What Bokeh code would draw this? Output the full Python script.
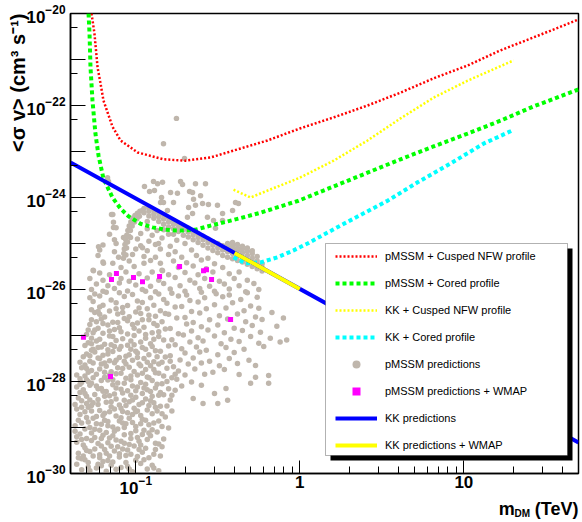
import math
from bokeh.plotting import figure
from bokeh.models import (Range1d, FixedTicker, Label, BoxAnnotation, Legend, LegendItem,
                          LogTickFormatter)
from bokeh.embed import file_html
from bokeh.resources import INLINE

# ---------------- data: log10(m_DM / TeV), log10(<sigma v> / cm^3 s^-1) ----------------
nfw_pmssm_logm = [-1.270, -1.252, -1.233, -1.215, -1.197, -1.172, -1.142, -1.093, -0.989, -0.831,
                  -0.697, -0.544, -0.404, -0.197, 0.0, 0.206, 0.413, 0.614, 0.815, 1.023, 1.224, 1.425, 1.700]
nfw_pmssm_logsv = [-20.0, -20.43, -21.17, -21.52, -21.89, -22.15, -22.46, -22.76, -23.02, -23.17,
                   -23.20, -23.13, -22.98, -22.76, -22.50, -22.26, -22.0, -21.72, -21.41, -21.13, -20.80, -20.52, -20.13]

cored_pmssm_logm = [-1.288, -1.282, -1.276, -1.264, -1.246, -1.227, -1.197, -1.142, -1.093, -1.044,
                    -0.971, -0.898, -0.819, -0.727, -0.636, -0.544, -0.441, -0.343, -0.239, -0.008,
                    0.206, 0.413, 0.614, 0.815, 1.023, 1.224, 1.425, 1.700]
cored_pmssm_logsv = [-20.0, -20.43, -21.17, -21.89, -22.61, -23.09, -23.59, -24.0, -24.24, -24.41,
                     -24.57, -24.65, -24.70, -24.72, -24.70, -24.61, -24.52, -24.43, -24.33, -24.07,
                     -23.76, -23.46, -23.17, -22.89, -22.61, -22.33, -22.02, -21.65]

nfw_kk_logm = [-0.404, -0.300, -0.197, 0.0, 0.206, 0.413, 0.614, 0.815, 1.023, 1.303]
nfw_kk_logsv = [-23.83, -24.0, -23.85, -23.57, -23.20, -22.76, -22.28, -21.83, -21.46, -21.02]

cored_kk_logm = [-0.404, -0.331, -0.239, -0.136, -0.038, 0.047, 0.248, 0.535, 0.718, 0.919, 1.12, 1.297]
cored_kk_logsv = [-25.30, -25.43, -25.41, -25.30, -25.15, -25.0, -24.61, -24.07, -23.67, -23.26, -22.83, -22.54]

kk_m = [0.04, 50.0]
kk_sv = [5.8e-24, 4.7e-30]
kk_wmap_m = [0.4, 1.0]
kk_wmap_sv = [6.25e-26, 1.03e-26]

wmap_pts = [(-1.319, -27.04), (-1.154, -27.89), (-1.148, -25.78), (-1.118, -25.65), (-1.014, -25.74),
            (-0.959, -25.83), (-0.855, -25.72), (-0.733, -25.50), (-0.587, -25.59), (-0.569, -25.57),
            (-0.538, -25.78), (-0.422, -26.65)]

pmssm_low = [
    (-1.33,-29.92),(-1.24,-29.88),(-1.18,-29.95),(-1.09,-29.87),(-1.02,-29.96),(-0.93,-29.90),(-0.86,-29.94),
    (-1.36,-29.80),(-1.29,-29.76),(-1.21,-29.83),(-1.14,-29.75),(-1.05,-29.85),(-0.97,-29.78),
    (-1.31,-29.70),(-1.26,-29.62),(-1.17,-29.72),(-1.10,-29.64),(-1.00,-29.71),(-0.92,-29.66),(-0.85,-29.62),
    (-1.35,-29.56),(-1.28,-29.52),(-1.22,-29.59),(-1.13,-29.51),(-1.06,-29.61),(-0.96,-29.54),(-0.89,-29.58),
    (-1.32,-29.38),(-1.19,-29.48),(-1.15,-29.41),(-1.08,-29.47),(-1.01,-29.40),(-0.94,-29.45),(-0.84,-29.42),
    (-1.36,-29.32),(-1.27,-29.28),(-1.23,-29.35),(-1.12,-29.27),(-1.04,-29.37),(-0.98,-29.30),(-0.88,-29.34),
    (-1.34,-29.14),(-1.30,-29.24),(-1.20,-29.17),(-1.16,-29.23),(-1.07,-29.16),(-0.99,-29.22),(-0.91,-29.18),(-0.83,-29.25),
    (-1.37,-29.08),(-1.25,-29.04),(-1.18,-29.11),(-1.11,-29.03),(-1.03,-29.13),(-0.95,-29.06),(-0.87,-29.10),
    (-1.33,-28.90),(-1.28,-29.00),(-1.21,-28.93),(-1.14,-28.99),(-1.06,-28.92),(-1.00,-28.98),(-0.92,-28.94),(-0.80,-29.01),
    (-1.35,-28.84),(-1.26,-28.80),(-1.17,-28.87),(-1.09,-28.79),(-1.02,-28.89),(-0.96,-28.82),(-0.86,-28.86),
    (-1.31,-28.66),(-1.24,-28.76),(-1.19,-28.69),(-1.12,-28.75),(-1.05,-28.68),(-0.97,-28.74),(-0.90,-28.70),(-0.82,-28.77),
    (-1.36,-28.60),(-1.29,-28.56),(-1.22,-28.63),(-1.15,-28.55),(-1.08,-28.65),(-1.01,-28.58),(-0.93,-28.62),(-0.85,-28.54),(-0.78,-28.64),
    (-1.33,-28.42),(-1.27,-28.52),(-1.18,-28.45),(-1.10,-28.51),(-1.04,-28.44),(-0.98,-28.50),(-0.89,-28.46),(-0.81,-28.53),(-0.59,-28.48),(-0.50,-28.48),
    (-1.35,-28.36),(-1.30,-28.32),(-1.23,-28.39),(-1.16,-28.31),(-1.07,-28.41),(-1.00,-28.34),(-0.94,-28.38),(-0.86,-28.30),(-0.79,-28.40),(-0.65,-28.37),(-0.44,-28.41),
    (-1.32,-28.18),(-1.25,-28.28),(-1.20,-28.21),(-1.13,-28.27),(-1.05,-28.20),(-0.96,-28.26),(-0.91,-28.22),(-0.83,-28.29),(-0.76,-28.19),(-0.52,-28.26),
    (-1.36,-28.12),(-1.28,-28.08),(-1.21,-28.15),(-1.14,-28.07),(-1.09,-28.17),(-1.02,-28.10),(-0.95,-28.14),(-0.87,-28.06),(-0.80,-28.16),(-0.72,-28.10),(-0.60,-28.08),(-0.45,-28.15),
    (-1.34,-27.94),(-1.27,-28.04),(-1.17,-27.97),(-1.11,-28.03),(-1.03,-27.96),(-0.97,-28.02),(-0.90,-27.98),(-0.84,-28.05),(-0.75,-27.95),(-0.66,-28.01),(-0.30,-28.04),(-0.19,-28.04),
    (-1.31,-27.88),(-1.24,-27.84),(-1.19,-27.91),(-1.12,-27.83),(-1.06,-27.93),(-0.99,-27.86),(-0.93,-27.90),(-0.86,-27.82),(-0.78,-27.92),(-0.70,-27.86),(-0.58,-27.84),(-0.37,-27.85),(-0.27,-27.91),(-0.19,-27.87),
    (-1.33,-27.70),(-1.29,-27.80),(-1.22,-27.73),(-1.15,-27.79),(-1.08,-27.72),(-1.01,-27.78),(-0.94,-27.74),(-0.88,-27.81),(-0.81,-27.71),(-0.74,-27.77),(-0.64,-27.73),(-0.53,-27.80),(-0.46,-27.74),(-0.27,-27.65),
    (-1.31,-27.64),(-1.26,-27.60),(-1.18,-27.67),(-1.13,-27.59),(-1.04,-27.69),(-0.98,-27.62),(-0.91,-27.66),(-0.84,-27.58),(-0.77,-27.68),(-0.68,-27.62),(-0.60,-27.60),(-0.49,-27.66),(-0.38,-27.61),
    (-1.32,-27.46),(-1.28,-27.56),(-1.23,-27.49),(-1.16,-27.55),(-1.10,-27.48),(-1.02,-27.54),(-0.95,-27.50),(-0.89,-27.57),(-0.82,-27.47),(-0.73,-27.53),(-0.65,-27.49),(-0.55,-27.56),(-0.43,-27.50),(-0.31,-27.54),
    (-1.30,-27.40),(-1.25,-27.36),(-1.20,-27.43),(-1.14,-27.35),(-1.06,-27.45),(-0.99,-27.38),(-0.92,-27.42),(-0.85,-27.34),(-0.79,-27.44),(-0.70,-27.38),(-0.61,-27.36),(-0.50,-27.42),(-0.40,-27.37),
    (-1.31,-27.22),(-1.27,-27.32),(-1.21,-27.25),(-1.17,-27.31),(-1.09,-27.24),(-1.03,-27.30),(-0.96,-27.26),(-0.88,-27.33),(-0.80,-27.23),(-0.72,-27.29),(-0.63,-27.25),(-0.57,-27.32),(-0.45,-27.26),(-0.34,-27.30),(-0.22,-27.24),
    (-1.29,-27.16),(-1.24,-27.12),(-1.19,-27.19),(-1.12,-27.11),(-1.05,-27.21),(-0.97,-27.14),(-0.91,-27.18),(-0.83,-27.10),(-0.76,-27.20),(-0.67,-27.14),(-0.59,-27.12),(-0.48,-27.18),(-0.37,-27.13),(-0.25,-27.17),(-0.12,-27.14),
    (-1.30,-26.98),(-1.22,-27.08),(-1.16,-27.01),(-1.08,-27.07),(-1.01,-27.00),(-0.94,-27.06),(-0.86,-27.02),(-0.78,-27.09),(-0.71,-26.99),(-0.62,-27.05),(-0.52,-27.01),(-0.42,-27.08),(-0.30,-27.02),(-0.18,-27.06),(-0.08,-27.10),
    (-1.29,-26.88),(-1.20,-26.95),(-1.13,-26.87),(-1.05,-26.97),(-0.98,-26.90),(-0.90,-26.94),(-0.82,-26.86),(-0.74,-26.96),(-0.66,-26.90),(-0.56,-26.88),(-0.46,-26.94),(-0.35,-26.89),(-0.24,-26.93),
    (-1.28,-26.76),(-1.23,-26.84),(-1.17,-26.77),(-1.10,-26.83),(-1.02,-26.76),(-0.95,-26.82),(-0.87,-26.78),(-0.79,-26.85),(-0.69,-26.75),(-0.60,-26.81),(-0.50,-26.77),(-0.40,-26.84),(-0.29,-26.78),(-0.14,-26.80),
    (-1.27,-26.66),(-1.21,-26.64),(-1.14,-26.71),(-1.07,-26.63),(-0.99,-26.73),(-0.92,-26.66),(-0.84,-26.70),(-0.75,-26.62),(-0.65,-26.72),(-0.55,-26.66),(-0.44,-26.64),(-0.33,-26.70),(-0.23,-26.65),(-0.10,-26.62),
    (-1.25,-26.50),(-1.19,-26.60),(-1.11,-26.53),(-1.04,-26.59),(-0.97,-26.52),(-0.88,-26.58),(-0.80,-26.54),(-0.70,-26.61),(-0.61,-26.51),(-0.49,-26.57),(-0.38,-26.53),(-0.27,-26.60),(-0.17,-26.50),
    (-1.27,-26.44),(-1.22,-26.38),(-1.16,-26.47),(-1.08,-26.39),(-1.00,-26.49),(-0.93,-26.42),(-0.85,-26.46),(-0.76,-26.38),(-0.66,-26.48),(-0.57,-26.42),(-0.45,-26.40),(-0.34,-26.46),(-0.25,-26.41),
    (-1.26,-26.26),(-1.20,-26.34),(-1.12,-26.29),(-1.05,-26.35),(-0.96,-26.28),(-0.89,-26.34),(-0.81,-26.30),(-0.72,-26.37),(-0.62,-26.27),(-0.52,-26.33),(-0.41,-26.29),(-0.30,-26.36),
    (-1.28,-26.18),(-1.22,-26.14),(-1.15,-26.23),(-1.07,-26.15),(-0.99,-26.25),(-0.91,-26.18),(-0.83,-26.22),(-0.74,-26.14),(-0.67,-26.24),(-0.58,-26.18),(-0.47,-26.16),(-0.36,-26.22),(-0.26,-26.17),
    (-1.25,-26.10),(-1.18,-26.06),(-1.10,-26.07),(-1.02,-26.11),(-0.94,-26.04),(-0.86,-26.10),(-0.78,-26.08),(-0.69,-26.12),(-0.60,-26.06),(-0.51,-26.09),(-0.43,-26.12),(-0.32,-26.07),
    (-1.29,-29.86),(-1.20,-29.74),(-1.12,-29.91),(-0.99,-29.63),(-1.25,-29.47),(-1.10,-29.57),(-1.32,-29.62),(-1.17,-29.33),
    (-1.05,-29.49),(-0.93,-29.26),(-1.27,-29.12),(-1.14,-29.18),(-1.00,-29.07),(-1.24,-28.92),(-1.10,-28.86),(-0.97,-28.92),
    (-1.30,-28.78),(-1.16,-28.66),(-1.02,-28.72),(-0.88,-28.56),(-1.26,-28.46),(-1.12,-28.38),(-0.96,-28.46),(-1.31,-28.26),
    (-1.18,-28.22),(-1.00,-28.20),(-0.85,-28.24),(-1.29,-28.00),(-1.14,-27.96),(-0.94,-28.06),(-1.27,-27.76),(-1.11,-27.70),
    (-0.97,-27.66),(-1.22,-27.50),(-1.07,-27.56),(-1.26,-27.30),(-1.13,-27.24),(-1.00,-27.34),
    (-1.28,-29.94),(-1.15,-29.82),(-1.06,-29.76),(-0.90,-29.82),(-1.33,-29.68),(-1.22,-29.66),(-1.03,-29.58),(-0.88,-29.48),
    (-1.30,-29.50),(-1.21,-29.40),(-1.11,-29.42),(-0.97,-29.38),(-1.33,-29.26),(-1.25,-29.22),(-1.09,-29.30),(-0.96,-29.15),
    (-1.31,-29.03),(-1.22,-29.06),(-1.07,-29.00),(-0.90,-29.05),(-1.37,-28.96),(-1.19,-28.84),(-1.04,-28.80),(-0.89,-28.90),
    (-1.34,-28.72),(-1.27,-28.64),(-1.13,-28.60),(-0.99,-28.64),(-0.84,-28.70),(-1.37,-28.50),(-1.23,-28.50),(-1.06,-28.52),
    (-0.92,-28.52),(-1.28,-28.40),(-1.19,-28.32),(-1.03,-28.30),(-0.90,-28.32),(-1.34,-28.24),(-1.23,-28.16),(-1.08,-28.25),
    (-0.93,-28.18),(-0.78,-28.30),(-1.33,-28.02),(-1.21,-27.98),(-1.07,-28.04),(-0.92,-27.92),(-0.81,-28.00),(-1.36,-27.86),
    (-1.26,-27.92),(-1.16,-27.86),(-1.03,-27.88),(-0.89,-27.74),(-0.76,-27.84),(-1.30,-27.72),(-1.19,-27.60),(-1.06,-27.62),
    (-0.93,-27.58),(-0.79,-27.56),(-1.28,-27.44),(-1.17,-27.40),(-1.04,-27.42),(-0.87,-27.46),(-1.23,-27.26),(-1.10,-27.30),
    (-0.94,-27.30),(-1.27,-27.06),(-1.14,-27.02),(-1.03,-27.12),(-0.89,-27.08),(-1.25,-26.88),(-1.09,-26.92),(-0.94,-26.98),
    (-1.24,-26.70),(-1.11,-26.72),(-0.96,-26.66),(-1.22,-26.54),(-1.08,-26.50),(-0.92,-26.56),
    (-1.35,-29.66),(-1.23,-29.80),(-1.16,-29.62),(-1.04,-29.90),(-0.95,-29.70),(-0.89,-29.88),
    (-1.31,-29.44),(-1.18,-29.56),(-1.07,-29.34),(-0.98,-29.48),(-0.86,-29.36),(-1.36,-29.20),
    (-1.21,-29.24),(-1.13,-29.08),(-1.03,-29.24),(-0.92,-29.12),(-1.29,-28.88),(-1.17,-28.96),
    (-1.08,-28.90),(-0.94,-28.84),(-0.84,-28.98),(-1.33,-28.56),(-1.20,-28.74),(-1.09,-28.58),
    (-1.00,-28.66),(-0.87,-28.64),(-1.30,-28.48),(-1.15,-28.44),(-1.02,-28.40),(-0.91,-28.42),
    (-1.34,-28.06),(-1.24,-28.10),(-1.12,-28.14),(-0.99,-28.12),(-0.88,-28.14),(-1.30,-27.96),
    (-1.19,-27.80),(-1.09,-27.82),(-0.96,-27.82),(-0.83,-27.88),(-1.34,-27.58),(-1.21,-27.62),
    (-1.12,-27.54),(-0.99,-27.48),(-0.86,-27.62),(-1.27,-27.18),(-1.15,-27.20),(-1.01,-27.20),
    (-0.90,-27.24),(-1.26,-26.94),(-1.16,-26.90),(-1.01,-26.84),(-0.86,-26.92),(-1.20,-26.74),
    (-1.05,-26.68),(-0.89,-26.74),(-1.23,-26.48),(-1.12,-26.42),(-0.98,-26.40),(-0.82,-26.52),
]

pmssm_mid = [
    (-1.14,-24.37),(-1.136,-24.54),(-0.93,-24.52),(-1.12,-24.66),(-0.93,-24.68),(-0.87,-24.72),
    (-1.16,-24.80),(-0.97,-24.78),(-0.90,-24.82),(-0.80,-24.80),
    (-1.13,-24.92),(-0.99,-24.90),(-0.92,-24.95),(-0.84,-24.88),(-0.75,-24.93),
    (-1.20,-25.03),(-1.12,-25.00),(-0.97,-25.05),(-0.88,-25.02),(-0.79,-25.06),(-0.70,-25.00),
    (-1.22,-25.14),(-1.13,-25.18),(-1.00,-25.12),(-0.93,-25.16),(-0.85,-25.12),(-0.76,-25.18),(-0.66,-25.14),
    (-1.23,-25.26),(-1.105,-25.30),(-1.02,-25.24),(-0.95,-25.28),(-0.88,-25.30),(-0.80,-25.24),(-0.72,-25.30),(-0.63,-25.26),(-0.56,-25.32),
    (-1.20,-25.40),(-1.14,-25.43),(-1.04,-25.38),(-0.95,-25.43),(-0.91,-25.37),(-0.85,-25.43),(-0.77,-25.38),(-0.69,-25.42),(-0.60,-25.36),(-0.52,-25.44),
    (-1.26,-25.58),(-1.09,-25.52),(-1.01,-25.50),(-0.84,-25.58),(-0.74,-25.52),(-0.65,-25.49),(-0.57,-25.55),(-0.47,-25.52),
    (-1.22,-25.64),(-1.16,-25.68),(-1.06,-25.62),(-0.98,-25.66),(-0.90,-25.62),(-0.80,-25.68),(-0.70,-25.63),(-0.62,-25.68),(-0.53,-25.62),(-0.43,-25.66),(-0.37,-25.62),
    (-1.28,-25.76),(-1.20,-25.80),(-1.09,-25.76),(-1.04,-25.82),(-0.93,-25.75),(-0.86,-25.80),(-0.76,-25.74),(-0.67,-25.80),(-0.58,-25.76),(-0.49,-25.82),(-0.40,-25.76),(-0.32,-25.80),
    (-1.24,-25.88),(-1.17,-25.92),(-1.10,-25.86),(-1.00,-25.90),(-0.91,-25.93),(-0.83,-25.87),(-0.73,-25.92),(-0.64,-25.86),(-0.55,-25.93),(-0.46,-25.88),(-0.37,-25.92),(-0.28,-25.87),
    (-1.27,-26.00),(-1.20,-26.04),(-1.13,-25.98),(-1.05,-26.03),(-0.96,-26.00),(-0.88,-26.05),(-0.79,-25.99),(-0.70,-26.04),(-0.61,-25.98),(-0.52,-26.04),(-0.43,-25.99),(-0.33,-26.05),(-0.25,-26.00),
    (-1.227,-25.07),(-1.197,-25.43),(-1.075,-24.87),(-1.032,-24.87),(-0.959,-25.09),(-0.861,-25.0),(-0.837,-25.59),(-1.258,-25.59),
]

pmssm_band = [
    (-1.075,-25.32),(-1.073,-25.22),(-1.070,-25.12),(-1.066,-25.02),(-1.061,-24.92),(-1.055,-24.82),(-1.048,-24.72),
    (-1.040,-24.62),(-1.030,-24.53),(-1.018,-24.45),(-1.005,-24.39),(-0.990,-24.34),(-0.975,-24.30),(-0.960,-24.28),
    (-1.060,-25.25),(-1.056,-25.10),(-1.050,-24.97),(-1.042,-24.84),(-1.033,-24.72),(-1.022,-24.62),(-1.008,-24.53),
    (-0.993,-24.46),(-0.978,-24.41),
    (-0.95,-24.24),(-0.95,-24.33),(-0.92,-24.22),(-0.92,-24.30),(-0.92,-24.40),(-0.89,-24.27),(-0.89,-24.36),(-0.89,-24.45),
    (-0.86,-24.33),(-0.86,-24.42),(-0.86,-24.52),(-0.83,-24.38),(-0.83,-24.47),(-0.83,-24.58),(-0.83,-24.70),
    (-0.80,-24.44),(-0.80,-24.53),(-0.80,-24.64),(-0.77,-24.50),(-0.77,-24.58),(-0.77,-24.68),(-0.77,-24.80),
    (-0.74,-24.56),(-0.74,-24.64),(-0.74,-24.74),(-0.71,-24.62),(-0.71,-24.70),(-0.71,-24.82),
    (-0.68,-24.67),(-0.68,-24.75),(-0.68,-24.86),(-0.65,-24.73),(-0.65,-24.81),(-0.65,-24.92),
    (-0.62,-24.78),(-0.62,-24.87),(-0.62,-24.98),(-0.59,-24.84),(-0.59,-24.92),(-0.59,-25.04),
    (-0.56,-24.90),(-0.56,-24.98),(-0.56,-25.10),(-0.53,-24.96),(-0.53,-25.04),(-0.53,-25.15),
    (-0.50,-25.00),(-0.50,-25.09),(-0.50,-25.20),(-0.47,-25.05),(-0.47,-25.14),(-0.47,-25.26),
    (-0.44,-25.08),(-0.44,-25.18),(-0.44,-25.30),(-0.44,-25.00),
    (-0.41,-25.12),(-0.41,-25.22),(-0.41,-25.33),(-0.41,-25.05),(-0.41,-24.98),
    (-0.38,-25.16),(-0.38,-25.26),(-0.38,-25.37),(-0.38,-25.10),(-0.38,-25.02),
    (-0.35,-25.20),(-0.35,-25.30),(-0.35,-25.40),(-0.35,-25.12),(-0.35,-25.06),
    (-0.32,-25.26),(-0.32,-25.35),(-0.32,-25.45),(-0.32,-25.17),(-0.32,-25.10),
    (-0.29,-25.32),(-0.29,-25.40),(-0.29,-25.50),(-0.29,-25.22),(-0.29,-25.16),
    (-0.26,-25.38),(-0.26,-25.46),(-0.26,-25.55),(-0.26,-25.28),(-0.23,-25.44),(-0.23,-25.52),(-0.23,-25.60),
]

pmssm_high = [
    (-0.752,-22.28),(-0.831,-22.83),(-0.703,-23.15),(-1.166,-23.65),(-0.837,-23.67),(-0.788,-23.89),
    (-0.727,-23.65),(-0.715,-23.72),(-0.746,-23.91),(-0.672,-23.87),(-0.654,-23.89),(-0.636,-23.70),
    (-0.575,-23.70),(-0.648,-24.04),(-0.605,-23.96),(-0.593,-24.13),(-0.636,-24.17),(-0.678,-24.22),
    (-0.557,-24.15),(-0.502,-24.17),(-0.471,-24.35),(-0.392,-24.11),(-0.374,-24.13),(-0.410,-24.28),
    (-0.471,-24.50),(-0.526,-24.50),(-0.563,-24.43),(-0.514,-24.67),(-0.654,-24.35),(-0.685,-24.43),
    (-0.770,-24.11),(-0.807,-24.28),(-0.849,-24.11),(-0.892,-23.65),(-0.867,-23.70),(-0.947,-23.76),
    (-0.916,-23.87),(-0.886,-23.85),(-0.843,-24.00),(-0.831,-24.11),(-1.148,-24.37),(-1.136,-24.65),
    (-1.172,-23.57),
]

x_major = [0.1, 1.0, 10.0]
x_minor = [0.05, 0.06, 0.07, 0.08, 0.09, 0.2, 0.3, 0.4, 0.5, 0.6, 0.7, 0.8, 0.9,
           2.0, 3.0, 4.0, 5.0, 6.0, 7.0, 8.0, 9.0, 20.0, 30.0, 40.0]
x_label_text = {1.0: "1", 10.0: "10"}
y_major_exp = list(range(-30, -19))
y_minor_exp = list(range(-30, -20))
y_unlabelled_exp = [-29, -27, -25, -23, -21]

legend_labels = ["pMSSM + Cusped NFW profile", "pMSSM + Cored profile", "KK + Cusped NFW profile",
                 "KK + Cored profile", "pMSSM predictions", "pMSSM predictions + WMAP",
                 "KK predictions", "KK predictions + WMAP"]

y_title = "<σ v> (cm³ s⁻¹)"
x_title_main = "m\u00a0\u00a0\u00a0\u00a0(TeV)"
x_title_sub = "DM"

# ---------------- figure ----------------
XMIN, XMAX = 0.04, 50.0
YMIN, YMAX = 1e-30, 1e-20
FONT = "Liberation Sans"

p = figure(width=582, height=522, x_axis_type="log", y_axis_type="log",
           x_range=Range1d(XMIN, XMAX), y_range=Range1d(YMIN, YMAX),
           output_backend="svg", toolbar_location=None,
           min_border_left=70, min_border_right=4, min_border_top=13, min_border_bottom=49)
p.background_fill_color = "white"
p.border_fill_color = "white"
p.grid.visible = False
p.outline_line_color = "black"
p.outline_line_width = 1.5

y_major = [10.0 ** e for e in y_major_exp]
y_minor = [5 * 10.0 ** e for e in y_minor_exp]
p.yaxis.ticker = FixedTicker(ticks=y_major, minor_ticks=y_minor)
p.xaxis.ticker = FixedTicker(ticks=x_major, minor_ticks=x_minor)
p.yaxis.formatter = LogTickFormatter()
p.xaxis.formatter = LogTickFormatter()
p.yaxis.major_label_overrides = {10.0 ** e: "" for e in y_unlabelled_exp}
p.xaxis.major_label_overrides = x_label_text
for ax in (p.xaxis[0], p.yaxis[0]):
    ax.axis_line_color = "black"
    ax.axis_line_width = 1.5
    ax.major_tick_line_color = "black"
    ax.minor_tick_line_color = "black"
    ax.major_tick_out = 0
    ax.minor_tick_out = 0
    ax.minor_tick_in = 7
    ax.major_label_text_font = FONT
    ax.major_label_text_font_style = "bold"
    ax.major_label_text_font_size = "17px"
    ax.major_label_text_color = "black"
p.yaxis.major_tick_in = 15
p.xaxis.major_tick_in = 13
p.yaxis.major_label_standoff = 5
p.xaxis.major_label_standoff = 2


def pw(vals):
    return [10.0 ** v for v in vals]


pmssm = pmssm_low + pmssm_mid + pmssm_band + pmssm_high
r_pts = p.scatter(pw([a for a, b in pmssm]), pw([b for a, b in pmssm]), marker="circle",
                  size=5.5, fill_color="#BFB6AC", line_color=None)
r_wmap = p.scatter(pw([a for a, b in wmap_pts]), pw([b for a, b in wmap_pts]), marker="square",
                   size=5, fill_color="#FF00FF", line_color=None)

r_red = p.line(pw(nfw_pmssm_logm), pw(nfw_pmssm_logsv), line_color="#FF0000", line_width=2.5, line_dash="2 2")
r_green = p.line(pw(cored_pmssm_logm), pw(cored_pmssm_logsv), line_color="#00FF00", line_width=4, line_dash="4 3")
r_ydot = p.line(pw(nfw_kk_logm), pw(nfw_kk_logsv), line_color="#FFFF00", line_width=2.5, line_dash="2 2")
r_cyan = p.line(pw(cored_kk_logm), pw(cored_kk_logsv), line_color="#00FFFF", line_width=4, line_dash="4 3")
r_blue = p.line(kk_m, kk_sv, line_color="#0000FF", line_width=4)
r_yel = p.line(kk_wmap_m, kk_wmap_sv, line_color="#FFFF00", line_width=4)

# pixel helpers for annotation placement (frame spans x 70..578, y 13..473)
LX0, LX1 = math.log10(XMIN), math.log10(XMAX)


def page_x(px):
    return 10 ** (LX0 + (px - 70) * (LX1 - LX0) / (578 - 70))


def page_y(py):
    return 10 ** (-30 + (473 - py) * 10.0 / 460.0)


# legend box with shadow
p.add_layout(BoxAnnotation(left=page_x(330), right=page_x(572), top=page_y(248), bottom=page_y(460),
                           fill_color="black", fill_alpha=1.0, line_color=None))
p.add_layout(BoxAnnotation(left=page_x(325), right=page_x(567), top=page_y(243), bottom=page_y(455),
                           fill_color="white", fill_alpha=1.0, line_color="black", line_width=1))

rends = [r_red, r_green, r_ydot, r_cyan, r_pts, r_wmap, r_blue, r_yel]
legend = Legend(items=[LegendItem(label=l, renderers=[r]) for l, r in zip(legend_labels, rends)],
                location=(265, 18), orientation="vertical", glyph_width=42, glyph_height=20,
                label_height=20, spacing=7, padding=0, margin=0, label_standoff=8,
                label_text_font=FONT, label_text_font_size="11px", label_text_color="black",
                border_line_alpha=0, background_fill_alpha=0)
p.add_layout(legend)


def add_label(place, text, x, y, xo, yo, size, align="left", angle=0.0):
    p.add_layout(Label(x=x, y=y, x_offset=xo, y_offset=yo, text=text, text_font=FONT,
                       text_font_size=f"{size}px", text_font_style="bold", text_align=align,
                       text_baseline="alphabetic", angle=angle, text_color="black"), place)


# x title: m_DM (TeV)
add_label("below", x_title_main, XMAX, YMIN, 0, -35, 18, "right")
add_label("above", x_title_sub, XMAX, YMIN, -64, -40, 10, "left")

# y title (rotated)
add_label("left", y_title, XMIN, YMAX, -53, 0, 20, "right", math.pi / 2)

open("out.html", "w").write(file_html(p, INLINE))
